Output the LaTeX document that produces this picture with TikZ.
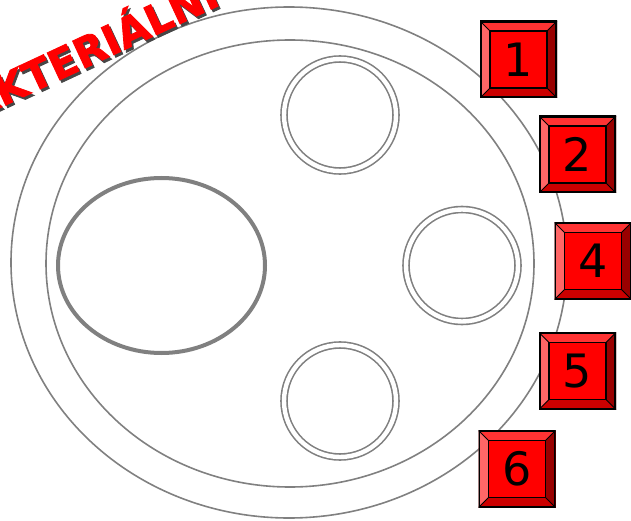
\documentclass[tikz,border=0pt]{standalone}
\usepackage{fontspec}
\usepackage{tikz}
\usetikzlibrary{shapes.geometric, positioning}
\newfontfamily\keyfont{DejaVu Sans}
\newfontfamily\headfont{DejaVu Sans}[BoldFont={DejaVu Sans Bold}, BoldFeatures={FakeBold=2}]
\definecolor{wallGray}{RGB}{128, 128, 128}
\definecolor{keyFace}{RGB}{255, 0, 0}
\definecolor{keyTop}{RGB}{255, 51, 51}
\definecolor{keyLeft}{RGB}{255, 102, 102}
\definecolor{keyRight}{RGB}{153, 0, 0}
\definecolor{keyBottom}{RGB}{204, 0, 0}
\definecolor{shadowGray}{RGB}{70, 70, 70}

\begin{document}
\begin{tikzpicture}[
    x=1pt, y=-1pt,
    % Node styles
    membrane/.style={
        ellipse,
        draw=wallGray,
        line width=1.6pt,
        inner sep=0pt
    },
    nucleoid/.style={
        ellipse,
        draw=wallGray,
        line width=4pt,
        inner sep=0pt,
        minimum width=207pt,
        minimum height=175pt
    },
    vacuole/.style={
        circle,
        draw=wallGray,
        line width=1.6pt,
        double=white,
        double distance=4.4pt,
        inner sep=0pt,
        minimum size=112pt
    },
    keybox/.style={
        rectangle,
        minimum size=77pt,
        inner sep=0pt,
        fill=keyFace,
        font=\keyfont\fontsize{46}{50}\selectfont,
        text=black,
        path picture={
            \coordinate (nw) at (path picture bounding box.north west);
            \coordinate (ne) at (path picture bounding box.north east);
            \coordinate (sw) at (path picture bounding box.south west);
            \coordinate (se) at (path picture bounding box.south east);
            \coordinate (inw) at ([xshift=10pt,yshift=-10pt]nw);
            \coordinate (ine) at ([xshift=-10pt,yshift=-10pt]ne);
            \coordinate (isw) at ([xshift=10pt,yshift=10pt]sw);
            \coordinate (ise) at ([xshift=-10pt,yshift=10pt]se);
            \fill[keyTop] (nw) -- (ne) -- (ine) -- (inw) -- cycle;
            \fill[keyLeft] (nw) -- (inw) -- (isw) -- (sw) -- cycle;
            \fill[keyRight] (ne) -- (se) -- (ise) -- (ine) -- cycle;
            \fill[keyBottom] (sw) -- (isw) -- (ise) -- (se) -- cycle;
            \draw[black, line width=1.5pt] (inw) rectangle (ise);
            \draw[black, line width=0.8pt] (nw) -- (inw) (ne) -- (ine) (sw) -- (isw) (se) -- (ise);
            \draw[black, line width=3.5pt] (nw) rectangle (se);
        }
    },
    title/.style={
        anchor=base west,
        inner sep=0pt,
        rotate=25,
        font=\headfont\bfseries\fontsize{41}{44}\selectfont,
        text=red
    },
    titleshadow/.style={
        title,
        text=shadowGray
    }
]
\useasboundingbox (0,0) rectangle (631,521);

% Cell wall and membrane
\node[membrane, minimum width=556pt, minimum height=511pt] (wall) at (289,262.5) {};
\node[membrane, minimum width=488pt, minimum height=447pt] (plasma) at (290,263.5) {};

% Inside the cell
\node[nucleoid] (dna) at (161.5,265.5) {};
\node[vacuole] (vTop) at (340,115) {};
\node[vacuole] (vRight) at (462,265.5) {};
\node[vacuole] (vBottom) at (340,401) {};

% Number keys
\node[keybox] (k1) at (518.5,59.5) {1};
\node[keybox] (k2) at (577.5,154.5) {2};
\node[keybox] (k4) at (593,261) {4};
\node[keybox] (k5) at (577.5,371) {5};
\node[keybox] (k6) at (517,469) {6};

% Title, cut by the frame
\begin{scope}
\clip (0,0) rectangle (631,521);
\node[titleshadow] (headShadow) at (-53,136) {BAKTERIÁLNÍ};
\node[title] (head) at (-55,133.5) {BAKTERIÁLNÍ};
\end{scope}

\end{tikzpicture}
\end{document}
